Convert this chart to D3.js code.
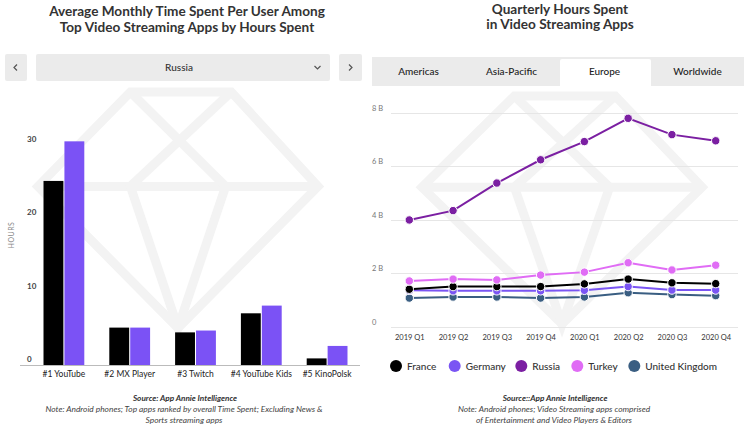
<!DOCTYPE html>
<html><head><meta charset="utf-8">
<script src="https://cdn.jsdelivr.net/npm/d3@7"></script>
<style>
html,body{margin:0;padding:0;background:#fff;}
svg{display:block;font-family:Lato, "Open Sans", sans-serif;}
</style></head>
<body><svg id="c" width="750" height="426"></svg>
<script>
// ---------- DATA ----------
const barCategories = ["#1 YouTube","#2 MX Player","#3 Twitch","#4 YouTube Kids","#5 KinoPolsk"];
const barSeries = ["2019","2020"];
const bars2019 = [25.1, 5.1, 4.45, 7.05, 0.9];
const bars2020 = [30.5, 5.1, 4.7, 8.1, 2.6];
const barTicks = [0, 10, 20, 30];

const quarters = ["2019 Q1","2019 Q2","2019 Q3","2019 Q4","2020 Q1","2020 Q2","2020 Q3","2020 Q4"];
const countries = ["France","Germany","Russia","Turkey","United Kingdom"];
const france  = [1.40, 1.50, 1.50, 1.50, 1.60, 1.78, 1.64, 1.61];
const germany = [1.36, 1.34, 1.34, 1.34, 1.36, 1.50, 1.37, 1.37];
const russia  = [3.99, 4.34, 5.37, 6.24, 6.92, 7.79, 7.18, 6.95];
const turkey  = [1.71, 1.78, 1.75, 1.93, 2.04, 2.39, 2.12, 2.30];
const uk      = [1.07, 1.11, 1.11, 1.07, 1.11, 1.27, 1.20, 1.16];
const lineTicks = [0, 2, 4, 6, 8];
const lineTickLabels = ["0","2 B","4 B","6 B","8 B"];
const tabs = ["Americas","Asia-Pacific","Europe","Worldwide"];
const activeTab = "Europe";
const dropdownValue = "Russia";

// ---------- STYLE ----------
const barColors = {"2019":"#000000","2020":"#7b52f5"};
const lineColors = {"France":"#000000","Germany":"#7a55f3","Russia":"#7b1fa2","Turkey":"#e06cf5","United Kingdom":"#3a5e82"};
const lineData = {"France":france,"Germany":germany,"Russia":russia,"Turkey":turkey,"United Kingdom":uk};

const svg = d3.select("#c");

// watermark gem
function gem(cx, top, w, h, col){
  const g = svg.append("g").attr("fill","none").attr("stroke",col).attr("stroke-width",9).attr("stroke-linejoin","miter");
  const l = cx - w/2, r = cx + w/2, gy = top + h*0.40, bot = top + h;
  const tl = cx - w*0.17, tr = cx + w*0.19;
  const il = cx - w*0.17, ir = cx + w*0.17;
  g.append("path").attr("d",`M${tl},${top}L${tr},${top}L${r},${gy}L${cx},${bot}L${l},${gy}Z`);
  g.append("path").attr("d",`M${l},${gy}L${r},${gy}`);
  g.append("path").attr("d",`M${tl},${top}L${ir},${gy}L${cx},${bot}L${il},${gy}L${tr},${top}`);
}
gem(178, 92, 280, 236, "#f3f3f3");
gem(562, 96, 280, 228, "#f3f3f3");

// ---------- LEFT: titles ----------
const titleStyle = t => t.attr("text-anchor","middle").attr("font-weight","700").attr("font-size",13.6).attr("fill","#333");
svg.append("text").attr("x",187).attr("y",16).text("Average Monthly Time Spent Per User Among").call(titleStyle);
svg.append("text").attr("x",187).attr("y",32).text("Top Video Streaming Apps by Hours Spent").call(titleStyle);

// dropdown controls
svg.append("rect").attr("x",5).attr("y",54).attr("width",22).attr("height",27).attr("rx",2).attr("fill","#ebebeb");
svg.append("rect").attr("x",36).attr("y",54).attr("width",294).attr("height",27).attr("rx",2).attr("fill","#ebebeb");
svg.append("rect").attr("x",339).attr("y",54).attr("width",23).attr("height",27).attr("rx",2).attr("fill","#ebebeb");
svg.append("path").attr("d","M17,64.5L14,67.5L17,70.5").attr("fill","none").attr("stroke","#555").attr("stroke-width",1.2);
svg.append("path").attr("d","M349,64.5L352,67.5L349,70.5").attr("fill","none").attr("stroke","#555").attr("stroke-width",1.2);
svg.append("path").attr("d","M314.5,66L317.5,69L320.5,66").attr("fill","none").attr("stroke","#555").attr("stroke-width",1.2);
svg.append("text").attr("x",179).attr("y",71).attr("text-anchor","middle").attr("font-size",10).attr("font-weight","500").attr("fill","#333").text(dropdownValue);

// ---------- LEFT: bar chart ----------
const x0 = d3.scaleBand().domain(barCategories).range([31,360]).paddingInner(0.38).paddingOuter(0.19);
const x1 = d3.scaleBand().domain(barSeries).range([0,x0.bandwidth()]).paddingInner(0.05);
const yb = d3.scaleLinear().domain([0,30]).range([365,145]);
const barRows = barCategories.map((c,i)=>({cat:c, vals:[{s:"2019",v:bars2019[i]},{s:"2020",v:bars2020[i]}]}));
const bg = svg.append("g");
bg.selectAll("g").data(barRows).join("g").attr("transform",d=>`translate(${x0(d.cat)},0)`)
  .selectAll("rect").data(d=>d.vals).join("rect")
  .attr("x",d=>x1(d.s)).attr("width",x1.bandwidth())
  .attr("y",d=>yb(d.v)).attr("height",d=>yb(0)-yb(d.v))
  .attr("fill",d=>barColors[d.s]);
svg.append("line").attr("x1",20).attr("x2",360).attr("y1",365.5).attr("y2",365.5).attr("stroke","#bbb").attr("stroke-width",1);
// y axis labels
const yAxisL = d3.axisLeft(yb).tickValues(barTicks).tickSize(0).tickFormat(d3.format("d"));
const yaL = svg.append("g").attr("transform","translate(27,-6)").call(yAxisL);
yaL.select(".domain").remove();
yaL.selectAll("text").attr("x",0).attr("text-anchor","start").attr("font-size",8).attr("font-weight","700").attr("fill","#444").attr("font-family","Lato, sans-serif");
// x axis labels
const xAxisL = d3.axisBottom(x0).tickSize(0);
const xaL = svg.append("g").attr("transform","translate(0,368)").call(xAxisL);
xaL.select(".domain").remove();
xaL.selectAll("text").attr("dy","0.71em").attr("font-size",8.5).attr("fill","#222").attr("font-family","Lato, sans-serif");
svg.append("text").attr("transform","translate(14,235) rotate(-90)").attr("text-anchor","middle").attr("font-size",7).attr("fill","#888").attr("letter-spacing",0.5).text("HOURS");

// source/note left
const noteStyle = t => t.attr("text-anchor","middle").attr("font-size",8.4).attr("font-style","italic").attr("fill","#444");
svg.append("text").attr("x",185).attr("y",401).attr("text-anchor","middle").attr("font-size",8.2).attr("font-weight","700").attr("font-style","italic").attr("fill","#333").text("Source: App Annie Intelligence");
svg.append("text").attr("x",184).attr("y",411.5).text("Note: Android phones; Top apps ranked by overall Time Spent; Excluding News &").call(noteStyle);
svg.append("text").attr("x",184).attr("y",422.5).text("Sports streaming apps").call(noteStyle);

// ---------- RIGHT: titles ----------
svg.append("text").attr("x",560).attr("y",14).text("Quarterly Hours Spent").call(titleStyle);
svg.append("text").attr("x",560).attr("y",29).text("in Video Streaming Apps").call(titleStyle);

// tabs
const tabX = d3.scaleBand().domain(tabs).range([372,744]);
svg.append("rect").attr("x",372).attr("y",57).attr("width",372).attr("height",29).attr("fill","#ebebeb");
svg.append("rect").attr("x",tabX(activeTab)+2).attr("y",59).attr("width",tabX.bandwidth()-2).attr("height",30).attr("rx",2).attr("fill","#fff");
svg.selectAll(".tab").data(tabs).join("text").attr("class","tab")
  .attr("x",d=>tabX(d)+tabX.bandwidth()/2).attr("y",75).attr("text-anchor","middle")
  .attr("font-size",10).attr("font-weight","500").attr("fill","#222").text(d=>d);

// line chart
const xl = d3.scalePoint().domain(quarters).range([409.3,715.7]);
const yl = d3.scaleLinear().domain([0,8]).range([326.7,112.7]);
const grid = svg.append("g");
grid.selectAll("line").data(lineTicks).join("line")
  .attr("x1",391).attr("x2",738).attr("y1",d=>Math.round(yl(d))+0.5).attr("y2",d=>Math.round(yl(d))+0.5)
  .attr("stroke","#e6e6e6").attr("stroke-width",1);
const yAxisR = d3.axisLeft(yl).tickValues(lineTicks).tickSize(0).tickFormat((d,i)=>lineTickLabels[i]);
const yaR = svg.append("g").attr("transform","translate(372,-5)").call(yAxisR);
yaR.select(".domain").remove();
yaR.selectAll("text").attr("x",0).attr("text-anchor","start").attr("font-size",7.5).attr("fill","#777").attr("font-family","Lato, sans-serif");
const xAxisR = d3.axisBottom(xl).tickSize(0);
const xaR = svg.append("g").attr("transform","translate(0,332)").call(xAxisR);
xaR.select(".domain").remove();
xaR.selectAll("text").attr("dy","0.71em").attr("font-size",7.5).attr("fill","#333").attr("font-family","Lato, sans-serif");

const line = d3.line().x((d,i)=>xl(quarters[i])).y(d=>yl(d));
const drawOrder = ["United Kingdom","Germany","France","Turkey","Russia"];
drawOrder.forEach(c=>{
  const g = svg.append("g");
  g.append("path").datum(lineData[c]).attr("d",line).attr("fill","none").attr("stroke",lineColors[c]).attr("stroke-width",2);
  g.selectAll("circle").data(lineData[c]).join("circle")
    .attr("cx",(d,i)=>xl(quarters[i])).attr("cy",d=>yl(d)).attr("r",4.2)
    .attr("fill",lineColors[c]).attr("stroke","#fff").attr("stroke-width",1);
});

// legend
const legendX = [396, 454.7, 521.3, 577.3, 634.3];
const lg = svg.append("g");
countries.forEach((c,i)=>{
  lg.append("circle").attr("cx",legendX[i]).attr("cy",366).attr("r",6).attr("fill",lineColors[c]);
  lg.append("text").attr("x",legendX[i]+11).attr("y",369.5).attr("font-size",10).attr("font-weight","500").attr("fill","#333").text(c);
});

svg.append("text").attr("x",555).attr("y",401).attr("text-anchor","middle").attr("font-size",8.2).attr("font-weight","700").attr("font-style","italic").attr("fill","#333").text("Source::App Annie Intelligence");
svg.append("text").attr("x",554).attr("y",411.5).text("Note: Android phones; Video Streaming apps comprised").call(noteStyle);
svg.append("text").attr("x",554).attr("y",422.5).text("of Entertainment and Video Players & Editors").call(noteStyle);
</script></body></html>
